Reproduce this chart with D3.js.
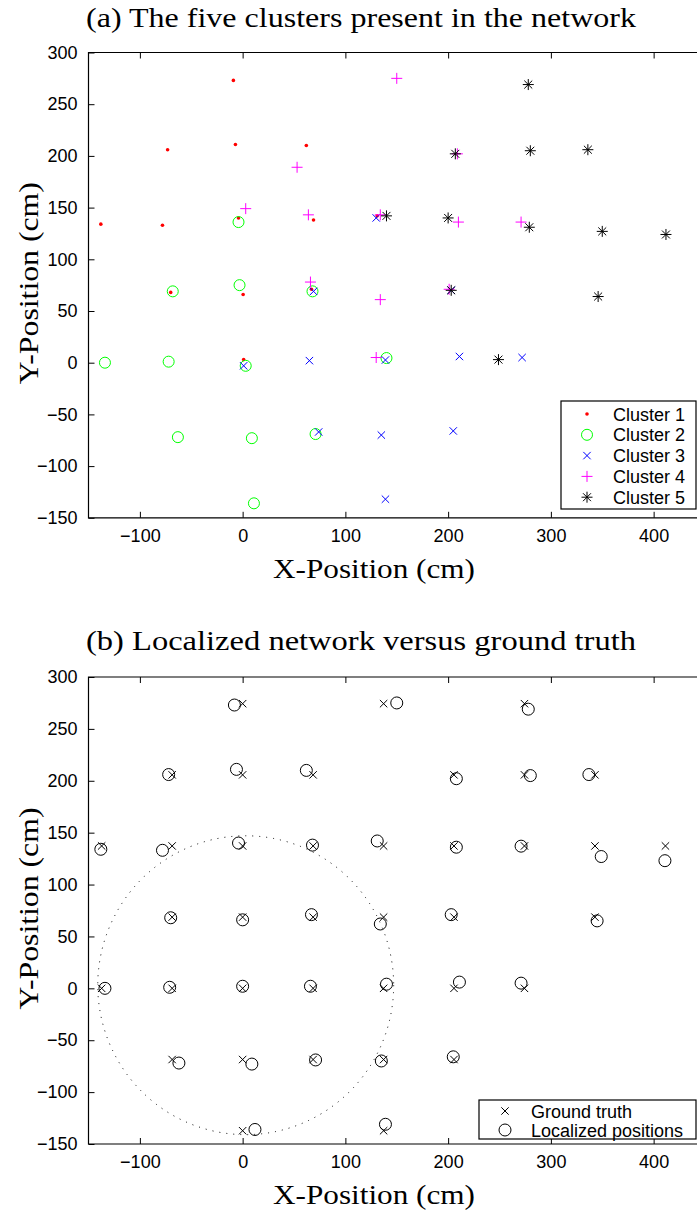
<!DOCTYPE html>
<html>
<head>
<meta charset="utf-8">
<script src="https://cdn.jsdelivr.net/npm/d3@7"></script>
<style>
  body { margin: 0; background: #fff; }
  svg { display: block; }
</style>
</head>
<body>
<svg id="fig" width="697" height="1211"></svg>
<script>
// ---- data (cm) ----
const xTicks = [-100, 0, 100, 200, 300, 400];
const yTicks = [-150, -100, -50, 0, 50, 100, 150, 200, 250, 300];

// (a) localized positions, per cluster
const cluster1 = [[-9, 273], [-7, 211], [-73, 206], [62, 210], [-138, 134], [-78, 133], [-4, 140],
  [69, 138], [131, 142], [-70, 68], [0.5, 66], [67, 71], [1, 3]];
const cluster2 = [[-4, 136], [-68, 69], [-3, 75], [68, 69], [-134, 0], [-72, 1], [3, -3], [140, 4.5],
  [-63, -72], [9, -73], [71, -69], [11, -136]];
const cluster3 = [[130, 140], [69, 69], [203, 70], [1, -3], [65, 2], [139, 2.6], [211, 6], [272, 5],
  [74, -67], [135, -70], [205, -66], [139, -132]];
const cluster4 = [[150, 275], [53, 189], [209, 202], [3, 149], [64, 143], [134, 143], [210, 136],
  [271, 136], [66, 78], [134, 61], [201, 71], [130, 5]];
const cluster5 = [[278, 269], [207, 202], [280, 205], [336, 206], [140, 142], [200, 140], [279, 131],
  [350, 127], [412, 124], [203, 70], [346, 64], [249, 3]];

// (b) ground truth grid and localized network
const groundTruth = [
  [0, 274.3], [137.2, 274.3], [274.3, 274.3],
  [-68.6, 205.7], [0, 205.7], [68.6, 205.7], [205.7, 205.7], [274.3, 205.7], [342.9, 205.7],
  [-137.2, 137.2], [-68.6, 137.2], [0, 137.2], [68.6, 137.2], [137.2, 137.2], [205.7, 137.2],
  [274.3, 137.2], [342.9, 137.2], [411.5, 137.2],
  [-68.6, 68.6], [0, 68.6], [68.6, 68.6], [137.2, 68.6], [205.7, 68.6], [342.9, 68.6],
  [-137.2, 0], [-68.6, 0], [0, 0], [68.6, 0], [137.2, 0], [205.7, 0], [274.3, 0],
  [-68.6, -68.6], [0, -68.6], [68.6, -68.6], [137.2, -68.6], [205.7, -68.6],
  [0, -137.2], [137.2, -137.2]];
const localized = [
  [-8, 273], [150, 275], [278, 269],
  [-72, 206], [-6, 211], [62, 210], [208, 202], [280, 205], [337, 206],
  [-138, 134], [-78, 133], [-4, 140], [68, 138], [131, 142], [208, 136], [271, 137], [349, 127], [411, 123],
  [-70, 68], [0, 66], [67, 71], [134, 62], [203, 71], [345, 65],
  [-134, 0], [-71, 1], [0, 2], [66, 2], [140, 4], [211, 6], [271, 5],
  [-62, -72], [9, -73], [71, -69], [135, -70], [205, -66],
  [12, -136], [139, -131]];
const rangeCircle = { cx: 3, cy: 3, r: 144 };

const svg = d3.select("#fig");
const serif = "'Liberation Serif', 'Times New Roman', serif";
const sans = "'Liberation Sans', Arial, sans-serif";

// marker painters
function marker(sel, type, color, s) {
  sel.each(function () {
    const g = d3.select(this);
    if (type === "dot") {
      g.append("circle").attr("r", 1.8).attr("fill", color);
    } else if (type === "circle") {
      g.append("circle").attr("r", s).attr("fill", "none").attr("stroke", color).attr("stroke-width", 1);
    } else {
      const segs = [];
      if (type === "plus" || type === "star") segs.push([-s, 0, s, 0], [0, -s, 0, s]);
      if (type === "x") segs.push([-s, -s, s, s], [-s, s, s, -s]);
      if (type === "star") { const k = s * 0.72; segs.push([-k, -k, k, k], [-k, k, k, -k]); }
      segs.forEach(d => g.append("line")
        .attr("x1", d[0]).attr("y1", d[1]).attr("x2", d[2]).attr("y2", d[3])
        .attr("stroke", color).attr("stroke-width", 1));
    }
  });
}

function panel(top, bottom, title, titleY) {
  const x = d3.scaleLinear().domain([-150, 450]).range([88.5, 705]);
  const y = d3.scaleLinear().domain([-150, 300]).range([bottom, top]);
  const g = svg.append("g");

  g.append("text").attr("x", 361).attr("y", titleY).attr("text-anchor", "middle")
    .attr("font-family", serif).attr("font-size", 27)
    .attr("textLength", 550).attr("lengthAdjust", "spacingAndGlyphs").text(title);

  const fmt = d3.format("d");
  const ax = (gen, tr) => {
    const a = g.append("g").attr("transform", tr).call(gen);
    a.select(".domain").remove();
    a.selectAll("line").attr("stroke", "#000");
    a.selectAll("text").attr("font-family", sans).attr("font-size", 18).attr("fill", "#000");
    return a;
  };
  ax(d3.axisBottom(x).tickValues(xTicks).tickSize(-6).tickPadding(11).tickFormat(fmt), `translate(0,${bottom})`);
  ax(d3.axisTop(x).tickValues(xTicks).tickSize(-6).tickFormat(""), `translate(0,${top})`);
  ax(d3.axisLeft(y).tickValues(yTicks).tickSize(-6).tickPadding(11).tickFormat(fmt), `translate(88.5,0)`);

  // box
  g.append("path").attr("fill", "none").attr("stroke", "#000").attr("stroke-width", 1.2)
    .attr("d", `M705,${top}H88.5V${bottom}H705`);

  g.append("text").attr("x", 374).attr("y", bottom + 60).attr("text-anchor", "middle")
    .attr("font-family", serif).attr("font-size", 27)
    .attr("textLength", 202).attr("lengthAdjust", "spacingAndGlyphs").text("X-Position (cm)");
  g.append("text").attr("transform", `translate(38,${(top + bottom) / 2 - 2}) rotate(-90)`)
    .attr("text-anchor", "middle").attr("font-family", serif).attr("font-size", 27)
    .attr("textLength", 202).attr("lengthAdjust", "spacingAndGlyphs").text("Y-Position (cm)");
  return { g, x, y };
}

// ---- (a) ----
const A = panel(52.5, 517.8, "(a) The five clusters present in the network", 27);
const series = [
  { name: "Cluster 1", data: cluster1, type: "dot", color: "#ff0000", s: 0 },
  { name: "Cluster 2", data: cluster2, type: "circle", color: "#00ff00", s: 5.5 },
  { name: "Cluster 3", data: cluster3, type: "x", color: "#0000ff", s: 3.7 },
  { name: "Cluster 4", data: cluster4, type: "plus", color: "#ff00ff", s: 5.5 },
  { name: "Cluster 5", data: cluster5, type: "star", color: "#000000", s: 5.5 }
];
series.forEach(sr => {
  A.g.append("g").selectAll("g").data(sr.data).join("g")
    .attr("transform", d => `translate(${A.x(d[0])},${A.y(d[1])})`)
    .call(marker, sr.type, sr.color, sr.s);
});
const legA = A.g.append("g");
legA.append("rect").attr("x", 561).attr("y", 401).attr("width", 135).attr("height", 108)
  .attr("fill", "#fff").attr("stroke", "#000").attr("stroke-width", 1.2);
series.forEach((sr, i) => {
  const cy = 414 + i * 20.8;
  legA.append("g").attr("transform", `translate(587,${cy})`).call(marker, sr.type, sr.color, sr.s);
  legA.append("text").attr("x", 613).attr("y", cy + 6.5).attr("font-family", sans)
    .attr("font-size", 18).text(sr.name);
});

// ---- (b) ----
const B = panel(677, 1144, "(b) Localized network versus ground truth", 650);
B.g.append("ellipse")
  .attr("cx", B.x(rangeCircle.cx)).attr("cy", B.y(rangeCircle.cy))
  .attr("rx", B.x(rangeCircle.r) - B.x(0)).attr("ry", B.y(0) - B.y(rangeCircle.r))
  .attr("fill", "none").attr("stroke", "#000").attr("stroke-width", 1)
  .attr("stroke-dasharray", "1 6");
B.g.append("g").selectAll("g").data(groundTruth).join("g")
  .attr("transform", d => `translate(${B.x(d[0])},${B.y(d[1])})`)
  .call(marker, "x", "#000", 3.7);
B.g.append("g").selectAll("g").data(localized).join("g")
  .attr("transform", d => `translate(${B.x(d[0])},${B.y(d[1])})`)
  .call(marker, "circle", "#000", 6);
const legB = B.g.append("g");
legB.append("rect").attr("x", 479).attr("y", 1100).attr("width", 217).attr("height", 39)
  .attr("fill", "#fff").attr("stroke", "#000").attr("stroke-width", 1.2);
[["Ground truth", "x", 3.7], ["Localized positions", "circle", 6]].forEach((d, i) => {
  const cy = 1111 + i * 19;
  legB.append("g").attr("transform", `translate(505,${cy})`).call(marker, d[1], "#000", d[2]);
  legB.append("text").attr("x", 531).attr("y", cy + 6.5).attr("font-family", sans)
    .attr("font-size", 18).text(d[0]);
});
</script>
</body>
</html>
